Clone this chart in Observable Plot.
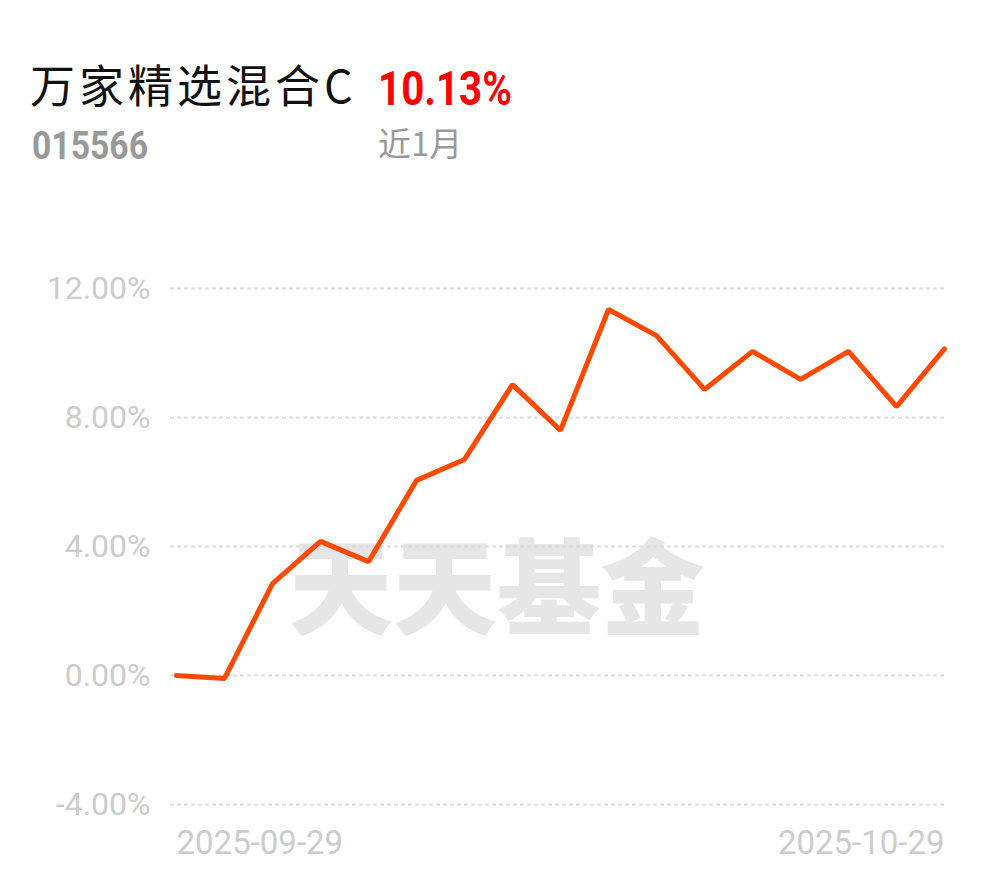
<!DOCTYPE html>
<html><head><meta charset="utf-8">
<script src="https://cdn.jsdelivr.net/npm/d3@7"></script>
<script src="https://cdn.jsdelivr.net/npm/@observablehq/plot@0.6"></script>
<style>
body{margin:0;background:#fff;}
#wrap{position:relative;width:990px;height:878px;overflow:hidden;background:#fff;font-family:Roboto,"Noto Sans CJK SC",sans-serif;}
.abs{position:absolute;line-height:1;white-space:nowrap;transform-origin:0 0;}
#title{left:30px;top:61px;font-size:45px;letter-spacing:4px;color:#111;font-family:"Noto Sans CJK SC",Roboto,sans-serif;}
#ret{left:378px;top:64px;font-size:49px;color:#f00;font-weight:bold;font-family:Roboto,sans-serif;}
#code{left:32px;top:127px;font-size:38px;color:#999;font-weight:bold;font-family:Roboto,sans-serif;}
#period{left:378px;top:126px;font-size:33px;color:#999;font-family:"Noto Sans CJK SC",sans-serif;}
#wm{left:289px;top:530px;font-size:104px;color:#e6e6e6;font-weight:900;font-family:"Noto Sans CJK SC",sans-serif;}
#chart{position:absolute;left:0;top:230px;}
</style></head>
<body><div id="wrap">
<div class="abs" id="wm">天天基金</div>
<div class="abs" id="title">万家精选混合C</div>
<div class="abs" id="ret" data-w="134">10.13%</div>
<div class="abs" id="code" data-w="116">015566</div>
<div class="abs" id="period">近1月</div>
<div id="chart"></div>
</div>
<script>
const dates = ["2025-09-29","2025-09-30","2025-10-09","2025-10-10","2025-10-13","2025-10-14","2025-10-15","2025-10-16","2025-10-17","2025-10-20","2025-10-21","2025-10-22","2025-10-23","2025-10-24","2025-10-27","2025-10-28","2025-10-29"];
const returns = [0.00,-0.09,2.85,4.16,3.53,6.05,6.70,9.02,7.60,11.35,10.54,8.87,10.05,9.18,10.05,8.34,10.13];
const yTicks = [-4,0,4,8,12];
const xLabels = [dates[0], dates[dates.length-1]];

const data = dates.map((d,i)=>({date:d, value:returns[i]}));

const chart = Plot.plot({
  width: 990,
  height: 648,
  marginLeft: 175,
  marginRight: 45,
  marginTop: 58,
  marginBottom: 74,
  style: {background:"transparent", fontFamily:"Roboto, sans-serif"},
  x: {type:"point", domain: dates, padding: 0},
  y: {domain:[-4,12]},
  marks: [
    Plot.gridY(yTicks, {stroke:"#dddddd", strokeOpacity:1, strokeWidth:2, strokeDasharray:"4,3", insetLeft:-5}),
    Plot.axisY(yTicks, {tickSize:0, tickPadding:25, tickFormat: d => d.toFixed(2)+"%", fontSize:32, fill:"#cccccc", label:null}),
    Plot.axisX([xLabels[0]], {tickSize:0, tickPadding:26, textAnchor:"start", fontSize:33, fill:"#cccccc", label:null}),
    Plot.axisX([xLabels[1]], {tickSize:0, tickPadding:26, textAnchor:"end", fontSize:33, fill:"#cccccc", label:null}),
    Plot.line(data, {x:"date", y:"value", stroke:"#ff4800", strokeWidth:5, strokeLinejoin:"miter", strokeLinecap:"round"})
  ]
});
document.getElementById("chart").appendChild(chart);
document.querySelectorAll("[data-w]").forEach(el => {
  const w = el.getBoundingClientRect().width;
  el.style.transform = `scaleX(${(+el.dataset.w)/w})`;
});
</script>
</body></html>
